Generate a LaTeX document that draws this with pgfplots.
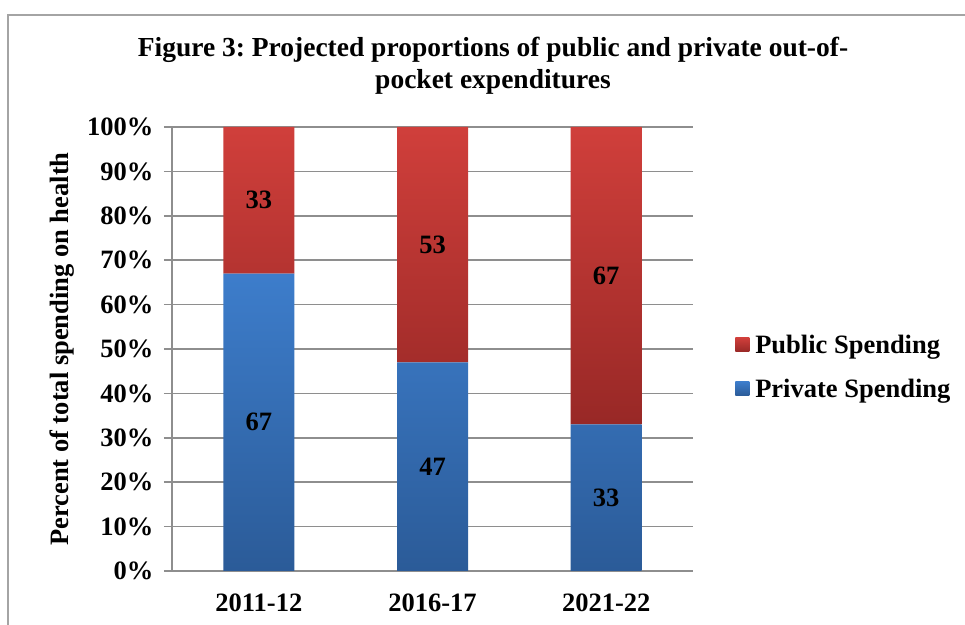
\documentclass[border=0pt]{standalone}
\usepackage{fontspec}
\setmainfont{Liberation Serif}
\usepackage{pgfplots}
\pgfplotsset{compat=1.18}
\frenchspacing
\definecolor{blueTop}{HTML}{3D7DCB}
\definecolor{blueBot}{HTML}{2B5B98}
\definecolor{redTop}{HTML}{D03F3B}
\definecolor{redBot}{HTML}{982826}
\definecolor{gridgray}{HTML}{8E8E8E}
\newcommand{\bigfont}{\fontsize{26.5bp}{32bp}\selectfont\bfseries}
\begin{document}
\begin{tikzpicture}
\useasboundingbox (0,0) rectangle (965bp,625bp);
\draw[gridgray!80, line width=1.5bp] (8bp,-10bp) -- (8bp,610bp) -- (980bp,610bp);
\node[align=center, font=\fontsize{27.5bp}{32bp}\selectfont\bfseries] at (493bp,559bp)
  {Figure 3: Projected proportions of public and private out-of-\\pocket expenditures};
\begin{axis}[
  at={(172bp,54bp)}, anchor=south west,
  scale only axis, width=521bp, height=444bp,
  ybar stacked, bar width=71bp,
  xmin=-0.5, xmax=2.5, ymin=0, ymax=100,
  xtick={0,1,2}, xticklabels={2011-12,2016-17,2021-22},
  x tick style={draw=none},
  extra x ticks={-0.5,0.5,1.5,2.5}, extra x tick labels={},
  extra x tick style={major tick length=8bp, tick style={draw=gridgray, line width=1.5bp}, grid=none},
  ytick={0,10,...,100},
  yticklabel={\pgfmathprintnumber{\tick}\%},
  /pgf/number format/assume math mode=true,
  tick align=outside, major tick length=8bp,
  y tick style={draw=gridgray, line width=1.5bp},
  ymajorgrids, grid style={draw=gridgray, line width=1.5bp},
  axis x line*=bottom, axis y line*=left,
  axis line style={draw=gridgray, line width=1.5bp},
  ticklabel style={font=\bigfont},
  yticklabel style={xshift=-7bp},
  xticklabel style={yshift=-11bp},
  ylabel={Percent of total spending on health},
  ylabel style={font=\bigfont, at={(axis description cs:-0.211,0.5)}, anchor=center},
  visualization depends on=rawy \as \rawy,
  nodes near coords={\pgfmathprintnumber{\rawy}},
  every node near coord/.append style={font=\bigfont, anchor=center},
  legend style={at={(axis description cs:1.075,0.46)}, anchor=west, draw=none, fill=none,
    font=\bigfont, row sep=20bp, cells={anchor=west}},
  reverse legend,
  legend image code/.code={\path[#1,draw=none] (0bp,-7bp) rectangle (14bp,7bp); \path (0bp,0bp) -- (18bp,0bp);},
]
\addplot[draw=none, top color=blueTop, bottom color=blueBot] coordinates {(0,67) (1,47) (2,33)};
\addplot[draw=none, top color=redTop, bottom color=redBot] coordinates {(0,33) (1,53) (2,67)};
\legend{Private Spending, Public Spending}
\end{axis}
\end{tikzpicture}
\end{document}
